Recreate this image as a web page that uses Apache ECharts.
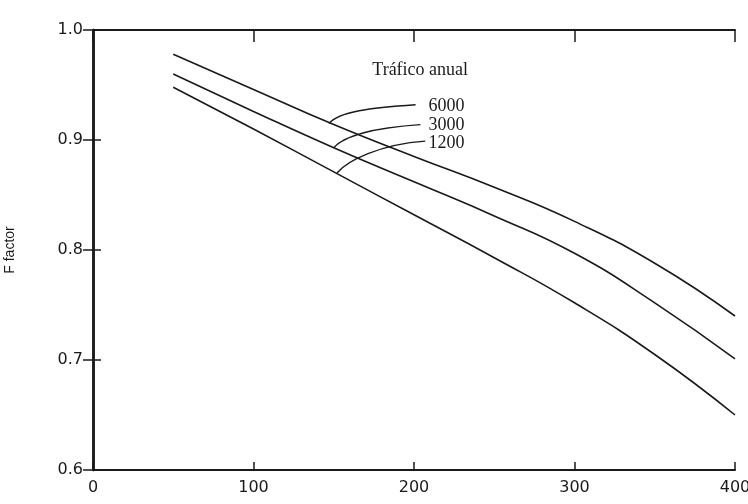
<!DOCTYPE html>
<html>
<head>
<meta charset="utf-8">
<script src="https://cdn.jsdelivr.net/npm/echarts@6/dist/echarts.min.js"></script>
<style>
  body { margin: 0; background: #fff; }
  #main { width: 748px; height: 504px; }
</style>
</head>
<body>
<div id="main"></div>
<script>
// values
var distance = [50, 100, 150, 200, 250, 300, 350, 400]
var traffic6000 = [0.978, 0.946, 0.914, 0.885, 0.857, 0.826, 0.788, 0.740]
var traffic3000 = [0.960, 0.926, 0.893, 0.862, 0.831, 0.797, 0.752, 0.701]
var traffic1200 = [0.948, 0.910, 0.871, 0.832, 0.793, 0.752, 0.705, 0.650]

var trafficNames = ['6000', '3000', '1200']
// where each leader touches its curve, and where its label sits (data units)
var leaderStart = [[147, 0.915], [150, 0.893], [152, 0.870]]
var leaderEnd = [[201, 0.932], [204, 0.914], [207, 0.899]]
var labelPos = [[209, 0.931], [209, 0.913], [209, 0.897]]
var titlePos = [174, 0.963]

var ink = '#1a1a1a'

function pairs(xs, ys) {
  var out = []
  for (let i = 0; i < xs.length; i++) {
    out.push([xs[i], ys[i]])
  }
  return out
}

var myChart = echarts.init(document.getElementById('main'));

var lineSeries = function (name, values) {
  return {
    name: name,
    type: 'line',
    data: pairs(distance, values),
    smooth: true,
    showSymbol: false,
    lineStyle: { color: ink, width: 1.6 },
    silent: true
  }
}

var option = {
  animation: false,
  backgroundColor: '#fff',
  grid: { left: 93, right: 13, top: 30, bottom: 34, outerBoundsMode: 'none', containLabel: false },
  xAxis: [
    {
      type: 'value', min: 0, max: 400, interval: 100,
      axisLine: { lineStyle: { color: ink, width: 2 } },
      axisTick: { inside: true, length: 8, lineStyle: { color: ink, width: 1.5 } },
      axisLabel: { color: ink, fontSize: 16, fontFamily: 'DejaVu Sans', margin: 10 },
      splitLine: { show: false }
    },
    {
      type: 'value', position: 'top', min: 0, max: 400, interval: 100,
      axisLine: { lineStyle: { color: ink, width: 2 } },
      axisTick: { inside: true, length: 12, lineStyle: { color: ink, width: 1.5 } },
      axisLabel: { show: false },
      splitLine: { show: false }
    }
  ],
  yAxis: [
    {
      type: 'value', min: 0.6, max: 1.0, interval: 0.1,
      name: 'F factor', nameLocation: 'middle', nameGap: 76,
      nameTextStyle: { color: ink, fontSize: 14, fontFamily: 'Liberation Sans' },
      axisLine: { lineStyle: { color: ink, width: 2.5 } },
      axisTick: { inside: true, length: 8, lineStyle: { color: ink, width: 1.5 } },
      axisLabel: {
        color: ink, fontSize: 16, fontFamily: 'DejaVu Sans', margin: 10,
        formatter: function (v) { return v.toFixed(1) }
      },
      splitLine: { show: false }
    },
    {
      type: 'value', position: 'right', min: 0.6, max: 1.0, interval: 0.1,
      axisLine: { lineStyle: { color: ink, width: 2.5 } },
      axisTick: { inside: true, length: 10, lineStyle: { color: ink, width: 1.5 } },
      axisLabel: { show: false },
      splitLine: { show: false }
    }
  ],
  series: [
    lineSeries('6000', traffic6000),
    lineSeries('3000', traffic3000),
    lineSeries('1200', traffic1200)
  ]
};

myChart.setOption(option);

// leaders and labels, placed from data units
var toPx = function (p) {
  return myChart.convertToPixel({ gridIndex: 0 }, p)
}

var graphics = []
for (let i = 0; i < trafficNames.length; i++) {
  let s = toPx(leaderStart[i])
  let e = toPx(leaderEnd[i])
  let l = toPx(labelPos[i])
  graphics.push({
    type: 'bezierCurve',
    shape: {
      x1: s[0], y1: s[1],
      cpx1: s[0] + 10, cpy1: s[1] - 12,
      cpx2: e[0] - 45, cpy2: e[1] + 3,
      x2: e[0], y2: e[1]
    },
    style: { stroke: ink, lineWidth: 1.4, fill: null },
    silent: true
  })
  graphics.push({
    type: 'text',
    x: l[0], y: l[1],
    style: {
      text: trafficNames[i], fill: ink,
      font: '18px "Liberation Serif"',
      textAlign: 'left', textVerticalAlign: 'middle'
    },
    silent: true
  })
}
let t = toPx(titlePos)
graphics.push({
  type: 'text',
  x: t[0], y: t[1],
  style: {
    text: 'Tráfico anual', fill: ink,
    font: '18px "Liberation Serif"',
    textAlign: 'left', textVerticalAlign: 'middle'
  },
  silent: true
})

myChart.setOption({ graphic: graphics });
</script>
</body>
</html>
